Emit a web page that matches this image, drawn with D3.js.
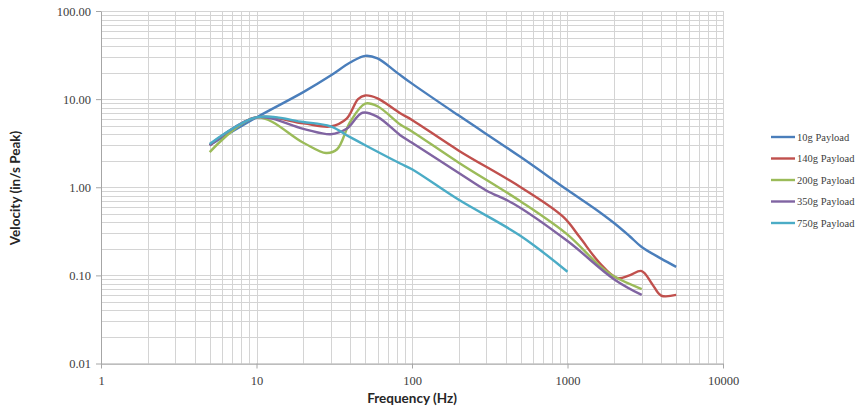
<!DOCTYPE html>
<html><head><meta charset="utf-8">
<script src="https://cdn.jsdelivr.net/npm/d3@7"></script>
<style>body{margin:0;background:#fff}svg{display:block}</style>
</head><body><svg id="c" width="867" height="409"></svg>
<script>
const seriesNames = ["10g Payload","140g Payload","200g Payload","350g Payload","750g Payload"];
const seriesColors = ["#4a7ebb","#c0504d","#9bbb59","#8064a2","#4bacc6"];
const freq10g  = [5,10,20,30,40,50,60,80,100,200,500,1000,1500,2000,2500,3000,4000,5000];
const vel10g   = [3.0,6.2,12,18.5,26,31,29,20,15,6.5,2.2,0.93,0.57,0.39,0.28,0.21,0.155,0.125];
const freq140g = [5,10,20,30,38,45,50,60,84,100,200,500,940,1200,1600,2100,2500,3000,3500,4000,5000];
const vel140g  = [3.0,6.2,5.3,4.9,6,10,11,10.2,6.9,5.8,2.6,1.0,0.46,0.27,0.14,0.093,0.1,0.112,0.08,0.059,0.06];
const freq200g = [5,10,20,28,33,40,50,60,84,100,200,500,1000,1600,2000,3000];
const vel200g  = [2.5,6.2,3.2,2.45,2.7,5.5,8.9,8.3,5.15,4.3,1.9,0.69,0.29,0.13,0.097,0.07];
const freq350g = [5,10,20,30,38,48,60,84,100,200,300,450,1000,2000,3000];
const vel350g  = [3.0,6.2,4.6,4.0,4.6,7.0,6.3,3.9,3.2,1.45,0.92,0.65,0.245,0.09,0.06];
const freq750g = [5,10,20,30,40,50,84,100,200,500,1000];
const vel750g  = [3.1,6.2,5.5,4.9,3.7,3.0,1.86,1.6,0.72,0.28,0.11];
const xTickLabels = ["1","10","100","1000","10000"];
const yTickLabels = ["0.01","0.10","1.00","10.00","100.00"];
const xTitle = "Frequency (Hz)";
const yTitle = "Velocity (in/s Peak)";

const freqs = [freq10g,freq140g,freq200g,freq350g,freq750g];
const vels = [vel10g,vel140g,vel200g,vel350g,vel750g];

const svg = d3.select("#c");
const L=101, R=723, T=11, B=363.5;
const x = d3.scaleLog().domain([1,10000]).range([L,R]);
const y = d3.scaleLog().domain([0.01,100]).range([B,T]);

// grid
const g = svg.append("g");
const minorX=[], minorY=[];
for (let d=1; d<10000; d*=10) for (let k=1;k<=10;k++) minorX.push(d*k);
for (let d=0.01; d<99; d*=10) for (let k=1;k<=10;k++) minorY.push(+(d*k).toPrecision(3));
g.selectAll(".vx").data(minorX).enter().append("line")
  .attr("x1",d=>Math.round(x(d))+0.5).attr("x2",d=>Math.round(x(d))+0.5)
  .attr("y1",T).attr("y2",B).attr("stroke","#d4d4d4").attr("stroke-width",1);
g.selectAll(".hy").data(minorY).enter().append("line")
  .attr("y1",d=>Math.round(y(d))+0.5).attr("y2",d=>Math.round(y(d))+0.5)
  .attr("x1",L).attr("x2",R).attr("stroke","#d4d4d4").attr("stroke-width",1);

// axes
const xAxis = d3.axisBottom(x).tickValues([1,10,100,1000,10000]).tickFormat((d,i)=>xTickLabels[i]).tickSize(5).tickSizeOuter(0);
const yAxis = d3.axisLeft(y).tickValues([0.01,0.1,1,10,100]).tickFormat((d,i)=>yTickLabels[i]).tickSize(5).tickSizeOuter(0);
const ax = svg.append("g").attr("transform",`translate(0,${B})`).call(xAxis);
const ay = svg.append("g").attr("transform",`translate(${L},0)`).call(yAxis);
[ax,ay].forEach(a=>{
  a.select(".domain").attr("stroke","#a6a6a6");
  a.selectAll(".tick line").attr("stroke","#a6a6a6");
  a.selectAll("text").attr("fill","#404040").style("font-family","'Liberation Serif',serif").style("font-size","12.5px");
});
ax.selectAll("text").attr("dy","1.05em");
ay.selectAll("text").attr("x",-10);

// lines
const line = d3.line().x(d=>x(d[0])).y(d=>y(d[1])).curve(d3.curveCatmullRom.alpha(0.5));
freqs.forEach((f,i)=>{
  const pts = f.map((fv,j)=>[fv,vels[i][j]]);
  svg.append("path").datum(pts).attr("d",line).attr("fill","none")
    .attr("stroke",seriesColors[i]).attr("stroke-width",2.4).attr("stroke-linejoin","round");
});

// titles
svg.append("text").attr("x",412).attr("y",403).attr("text-anchor","middle")
  .style("font-family","Lato,'Open Sans',sans-serif").style("font-weight","bold").style("font-size","13.5px").attr("fill","#262626").text(xTitle);
svg.append("text").attr("transform","translate(20,188) rotate(-90)").attr("text-anchor","middle")
  .style("font-family","Lato,'Open Sans',sans-serif").style("font-weight","bold").style("font-size","13.5px").attr("fill","#262626").text(yTitle);

// legend
const lg = svg.append("g");
seriesNames.forEach((n,i)=>{
  const yy = 137 + i*21.5;
  lg.append("line").attr("x1",771).attr("x2",795).attr("y1",yy).attr("y2",yy).attr("stroke",seriesColors[i]).attr("stroke-width",2.4);
  lg.append("text").attr("x",797).attr("y",yy+3.5).style("font-family","'Liberation Serif',serif").style("font-size","10.5px").attr("fill","#404040").text(n);
});
</script></body></html>
